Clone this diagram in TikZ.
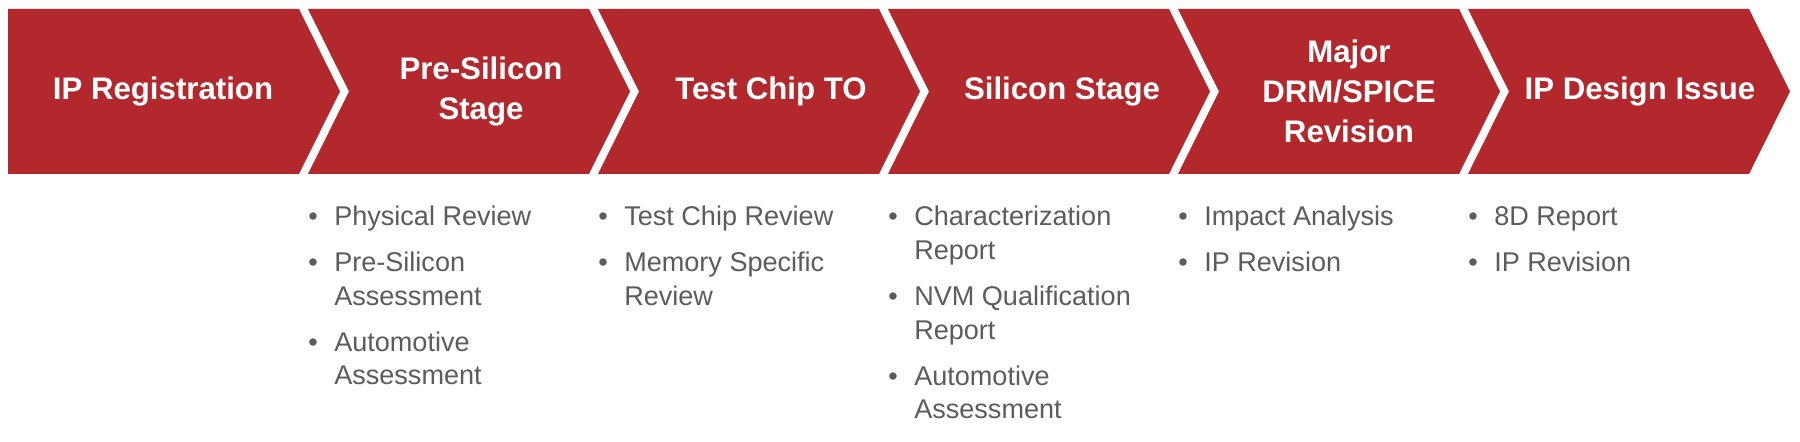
\documentclass[tikz,border=0pt]{standalone}
\usepackage{fontspec}
\setmainfont{Liberation Sans}
\definecolor{chev}{HTML}{B2282C}
\definecolor{txt}{HTML}{5C5C5C}
\begin{document}
\begin{tikzpicture}[x=0.75pt,y=-0.75pt,
  chevfill/.style={fill=chev,draw=none},
  title/.style={text=white,font=\fontsize{23.4}{30}\selectfont\bfseries,align=center,inner sep=0},
  item/.style={text=txt,font=\fontsize{20.3}{25}\selectfont,anchor=base west,inner sep=0},
  dot/.style={text=txt,font=\fontsize{20.3}{25}\selectfont,anchor=base,inner sep=0}]
\useasboundingbox (0,0) rectangle (1800,442);
\fill[white] (0,0) rectangle (1800,442);
% chevrons
\fill[chevfill] (8,9) -- (299,9) -- (340,91.5) -- (299,174) -- (8,174) -- cycle;
\foreach \L in {308,598,888,1178,1468}{
  \fill[chevfill] (\L,9) -- (\L+281,9) -- (\L+322,91.5) -- (\L+281,174) -- (\L,174) -- (\L+41,91.5) -- cycle;
}
% titles
\node[title] (t1) at (163,91.5) {IP Registration};
\node[title] (t2) at (481,91.5) {Pre-Silicon\\Stage};
\node[title] (t3) at (771,91.5) {Test Chip TO};
\node[title] (t4) at (1062,91.5) {Silicon Stage};
\node[title] (t5) at (1349,91.5) {Major\\DRM/SPICE\\Revision};
\node[title] (t6) at (1640,91.5) {IP Design Issue};
% column 2
\node[dot] (b21) at (313,226) {•};
\node[item] (i21) at (334,226) {Physical Review};
\node[dot] (b22) at (313,272) {•};
\node[item] (i22a) at (334,272) {Pre-Silicon};
\node[item] (i22b) at (334,305.5) {Assessment};
\node[dot] (b23) at (313,351) {•};
\node[item] (i23a) at (334,351) {Automotive};
\node[item] (i23b) at (334,384.5) {Assessment};
% column 3
\node[dot] (b31) at (603,226) {•};
\node[item] (i31) at (624,226) {Test Chip Review};
\node[dot] (b32) at (603,272) {•};
\node[item] (i32a) at (624,272) {Memory Specific};
\node[item] (i32b) at (624,305.5) {Review};
% column 4
\node[dot] (b41) at (893,226) {•};
\node[item] (i41a) at (914,226) {Characterization};
\node[item] (i41b) at (914,259.5) {Report};
\node[dot] (b42) at (893,305.5) {•};
\node[item] (i42a) at (914,305.5) {NVM Qualification};
\node[item] (i42b) at (914,339) {Report};
\node[dot] (b43) at (893,385) {•};
\node[item] (i43a) at (914,385) {Automotive};
\node[item] (i43b) at (914,418.5) {Assessment};
% column 5
\node[dot] (b51) at (1183,226) {•};
\node[item] (i51) at (1204,226) {Impact Analysis};
\node[dot] (b52) at (1183,272) {•};
\node[item] (i52) at (1204,272) {IP Revision};
% column 6
\node[dot] (b61) at (1473,226) {•};
\node[item] (i61) at (1494,226) {8D Report};
\node[dot] (b62) at (1473,272) {•};
\node[item] (i62) at (1494,272) {IP Revision};
\end{tikzpicture}
\end{document}
